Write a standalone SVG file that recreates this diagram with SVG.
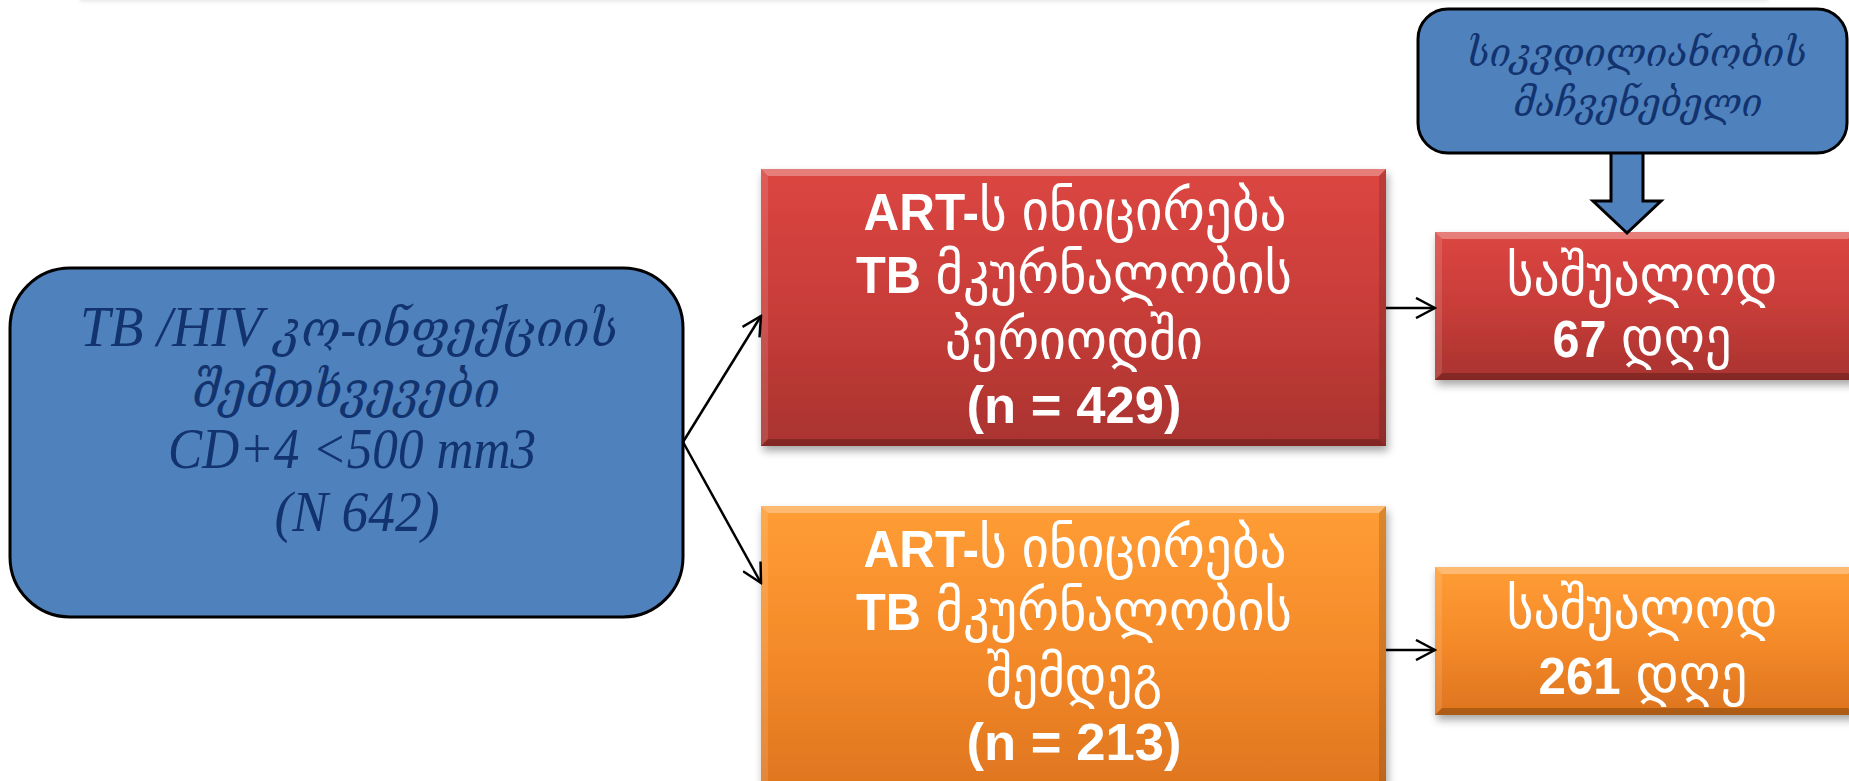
<svg xmlns="http://www.w3.org/2000/svg" width="1849" height="781" viewBox="0 0 1849 781">
<defs>
  <linearGradient id="gRed" x1="0" y1="0" x2="0" y2="1">
    <stop offset="0" stop-color="#DC4641"/>
    <stop offset="0.5" stop-color="#C83D39"/>
    <stop offset="1" stop-color="#A9332F"/>
  </linearGradient>
  <linearGradient id="gOrange" x1="0" y1="0" x2="0" y2="1">
    <stop offset="0" stop-color="#FF9D35"/>
    <stop offset="0.5" stop-color="#F48A29"/>
    <stop offset="1" stop-color="#DE741E"/>
  </linearGradient>
  <filter id="shadow" x="-5%" y="-5%" width="112%" height="120%">
    <feDropShadow dx="2" dy="5" stdDeviation="4" flood-color="#000" flood-opacity="0.35"/>
  </filter>
  <filter id="soft" x="-2%" y="-200%" width="104%" height="500%">
    <feGaussianBlur stdDeviation="2"/>
  </filter>
  <marker id="arr" viewBox="0 0 22 22" refX="20" refY="11" markerWidth="22" markerHeight="22" markerUnits="userSpaceOnUse" orient="auto">
    <path d="M1,1 L20,11 L1,21" fill="none" stroke="#000" stroke-width="2.5"/>
  </marker>
  <style>
    .blue { fill:#4F81BD; stroke:#000; stroke-width:3; }
    .navy { font-family:"Liberation Serif","DejaVu Serif",serif; font-style:italic; fill:#12336E; text-anchor:middle; }
    .ng { font-size:50px; }
    .wt { font-family:"Liberation Sans","DejaVu Sans",sans-serif; fill:#FFFFFF; text-anchor:middle; }
    .b { font-weight:bold; font-size:52px; }
    .g { font-size:56px; }
    .bt { fill:#FFFFFF; opacity:0.3; }
    .bb { fill:#000000; opacity:0.22; }
    .bl { fill:#FFFFFF; opacity:0.12; }
    .br { fill:#000000; opacity:0.14; }
    .conn { stroke:#000; stroke-width:2.5; fill:none; marker-end:url(#arr); }
  </style>
</defs>

<rect x="0" y="0" width="1849" height="781" fill="#FFFFFF"/>
<rect x="80" y="-4" width="1688" height="5" fill="#E2E2E2" filter="url(#soft)"/>

<g id="node-cases">
  <rect class="blue" x="10" y="268" width="673" height="349" rx="60" ry="60"/>
  <text class="navy" font-size="58" x="349" y="346" textLength="538" lengthAdjust="spacingAndGlyphs">TB /HIV <tspan class="ng">კო-ინფექციის</tspan></text>
  <text class="navy ng" x="346" y="407" textLength="308" lengthAdjust="spacingAndGlyphs">შემთხვევები</text>
  <text class="navy" font-size="58" x="352" y="468" textLength="368" lengthAdjust="spacingAndGlyphs">CD+4 &lt;500 mm3</text>
  <text class="navy" font-size="58" x="357" y="531" textLength="165" lengthAdjust="spacingAndGlyphs">(N 642)</text>
</g>

<g id="node-art-during">
  <rect x="761" y="169" width="625" height="277" fill="url(#gRed)" filter="url(#shadow)"/>
  <polygon class="bt" points="761,169 1386,169 1379,176 768,176"/>
  <polygon class="bb" points="761,446 1386,446 1379,439 768,439"/>
  <polygon class="bl" points="761,169 768,176 768,439 761,446"/>
  <polygon class="br" points="1386,169 1379,176 1379,439 1386,446"/>
  <text class="wt g" x="1075" y="230" textLength="423" lengthAdjust="spacingAndGlyphs"><tspan class="b">ART-</tspan>ს ინიცირება</text>
  <text class="wt g" x="1074" y="293" textLength="436" lengthAdjust="spacingAndGlyphs"><tspan class="b">TB</tspan> მკურნალობის</text>
  <text class="wt g" x="1074" y="359" textLength="258" lengthAdjust="spacingAndGlyphs">პერიოდში</text>
  <text class="wt b" x="1074" y="423" textLength="215" lengthAdjust="spacingAndGlyphs">(n = 429)</text>
</g>

<g id="node-art-after">
  <rect x="761" y="506" width="625" height="290" fill="url(#gOrange)" filter="url(#shadow)"/>
  <polygon class="bt" points="761,506 1386,506 1379,513 768,513"/>
  <polygon class="bl" points="761,506 768,513 768,781 761,781"/>
  <polygon class="br" points="1386,506 1379,513 1379,781 1386,781"/>
  <text class="wt g" x="1075" y="567" textLength="423" lengthAdjust="spacingAndGlyphs"><tspan class="b">ART-</tspan>ს ინიცირება</text>
  <text class="wt g" x="1074" y="630" textLength="436" lengthAdjust="spacingAndGlyphs"><tspan class="b">TB</tspan> მკურნალობის</text>
  <text class="wt g" x="1074" y="696" textLength="176" lengthAdjust="spacingAndGlyphs">შემდეგ</text>
  <text class="wt b" x="1074" y="760" textLength="215" lengthAdjust="spacingAndGlyphs">(n = 213)</text>
</g>

<g id="node-avg67">
  <rect x="1435" y="232" width="420" height="148" fill="url(#gRed)" filter="url(#shadow)"/>
  <polygon class="bt" points="1435,232 1855,232 1848,239 1442,239"/>
  <polygon class="bb" points="1435,380 1855,380 1848,373 1442,373"/>
  <polygon class="bl" points="1435,232 1442,239 1442,373 1435,380"/>
  <text class="wt g" x="1642" y="295" textLength="271" lengthAdjust="spacingAndGlyphs">საშუალოდ</text>
  <text class="wt g" x="1642" y="357" textLength="179" lengthAdjust="spacingAndGlyphs"><tspan class="b">67</tspan> დღე</text>
</g>

<g id="node-avg261">
  <rect x="1435" y="567" width="420" height="148" fill="url(#gOrange)" filter="url(#shadow)"/>
  <polygon class="bt" points="1435,567 1855,567 1848,574 1442,574"/>
  <polygon class="bb" points="1435,715 1855,715 1848,708 1442,708"/>
  <polygon class="bl" points="1435,567 1442,574 1442,708 1435,715"/>
  <text class="wt g" x="1642" y="628" textLength="271" lengthAdjust="spacingAndGlyphs">საშუალოდ</text>
  <text class="wt g" x="1643" y="694" textLength="209" lengthAdjust="spacingAndGlyphs"><tspan class="b">261</tspan> დღე</text>
</g>

<g id="node-mortality">
  <polygon class="blue" points="1611,140 1643,140 1643,201 1661,201 1627,233 1593,201 1611,201"/>
  <rect class="blue" x="1418" y="9" width="429" height="144" rx="30" ry="30"/>
  <text class="navy" font-size="40" x="1637" y="66" textLength="340" lengthAdjust="spacingAndGlyphs">სიკვდილიანობის</text>
  <text class="navy" font-size="40" x="1638" y="116" textLength="249" lengthAdjust="spacingAndGlyphs">მაჩვენებელი</text>
</g>

<g id="connectors">
  <line class="conn" x1="683" y1="442" x2="761" y2="316"/>
  <line class="conn" x1="683" y1="442" x2="761" y2="583"/>
  <line class="conn" x1="1386" y1="308" x2="1435" y2="308"/>
  <line class="conn" x1="1386" y1="650" x2="1435" y2="650"/>
</g>
</svg>
